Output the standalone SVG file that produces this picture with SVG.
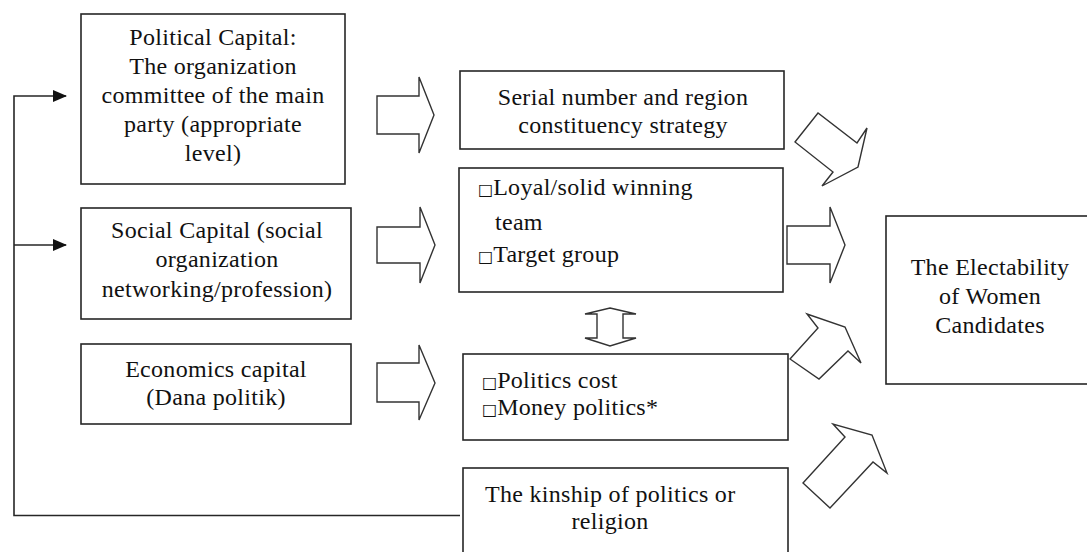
<svg xmlns="http://www.w3.org/2000/svg" width="1087" height="552" viewBox="0 0 1087 552">
<style>
.box{fill:#fff;stroke:#262626;stroke-width:1.6}
.blk{fill:#fff;stroke:#333;stroke-width:1.4;stroke-linejoin:miter}
.ln{fill:none;stroke:#262626;stroke-width:1.6}
.t{font-family:'Liberation Serif','DejaVu Serif',serif;font-size:24px;letter-spacing:0.3px;fill:#111}
.c{text-anchor:middle}
.sq{font-family:'DejaVu Sans',sans-serif;font-size:16px;letter-spacing:0}
</style>
<defs>
<marker id="ah" markerWidth="14" markerHeight="12" refX="13" refY="6" orient="auto" markerUnits="userSpaceOnUse">
<path d="M0,0 L14,6 L0,12 Z" fill="#111"/>
</marker>
</defs>
<rect width="1087" height="552" fill="#fff"/>

<g id="connectors">
<path class="ln" d="M460,515.5 H14 V96 H66" marker-end="url(#ah)"/>
<path class="ln" d="M14,245 H66" marker-end="url(#ah)"/>
<polygon class="blk" points="377,96 419,96 419,77 434,115 419,153 419,134 377,134"/>
<polygon class="blk" points="377,227 420,227 420,207 435,245 420,283 420,263 377,263"/>
<polygon class="blk" points="377,363 419,363 419,345 435,383 419,420 419,402 377,402"/>
<polygon class="blk" points="787,226 830,226 830,207 845,245 830,283 830,264 787,264"/>
<polygon class="blk" points="795,142 818,113 857,143 867,128 858,167 822,186 833,172"/>
<polygon class="blk" points="790,359 818,328 807,314 845,327 861,363 848,351 819,379"/>
<polygon class="blk" points="803,483 845,437 833,424 872,435 887,473 873,462 830,508"/>
<polygon class="blk" points="610,308 636,314 623,314 623,338 636,338 610,346 585,338 597,338 597,314 585,314"/>
</g>

<g id="political">
<rect class="box" x="81" y="14" width="264" height="170"/>
<text class="t c" x="213" y="45">Political Capital:</text>
<text class="t c" x="213" y="74">The organization</text>
<text class="t c" x="213" y="103">committee of the main</text>
<text class="t c" x="213" y="132">party (appropriate</text>
<text class="t c" x="213" y="161">level)</text>
</g>

<g id="social">
<rect class="box" x="81" y="208" width="270" height="111"/>
<text class="t c" x="217" y="238">Social Capital (social</text>
<text class="t c" x="217" y="267">organization</text>
<text class="t c" x="217" y="297">networking/profession)</text>
</g>

<g id="economics">
<rect class="box" x="81" y="344" width="270" height="80"/>
<text class="t c" x="216" y="377">Economics capital</text>
<text class="t c" x="216" y="405">(Dana politik)</text>
</g>

<g id="serial">
<rect class="box" x="460" y="71" width="324" height="78"/>
<text class="t c" x="623" y="105">Serial number and region</text>
<text class="t c" x="623" y="133">constituency strategy</text>
</g>

<g id="team">
<rect class="box" x="459" y="168" width="324" height="124"/>
<text class="t" x="478" y="195"><tspan class="sq">□</tspan>Loyal/solid winning</text>
<text class="t" x="495" y="230">team</text>
<text class="t" x="478" y="262"><tspan class="sq">□</tspan>Target group</text>
</g>

<g id="cost">
<rect class="box" x="463" y="354" width="325" height="86"/>
<text class="t" x="482" y="388"><tspan class="sq">□</tspan>Politics cost</text>
<text class="t" x="482" y="415"><tspan class="sq">□</tspan>Money politics*</text>
</g>

<g id="kinship">
<rect class="box" x="463" y="468" width="325" height="100"/>
<text class="t" x="485" y="502">The kinship of politics or</text>
<text class="t c" x="610" y="529">religion</text>
</g>

<g id="electability">
<rect class="box" x="886" y="216" width="210" height="168"/>
<text class="t c" x="990" y="275">The Electability</text>
<text class="t c" x="990" y="304">of Women</text>
<text class="t c" x="990" y="333">Candidates</text>
</g>
</svg>
